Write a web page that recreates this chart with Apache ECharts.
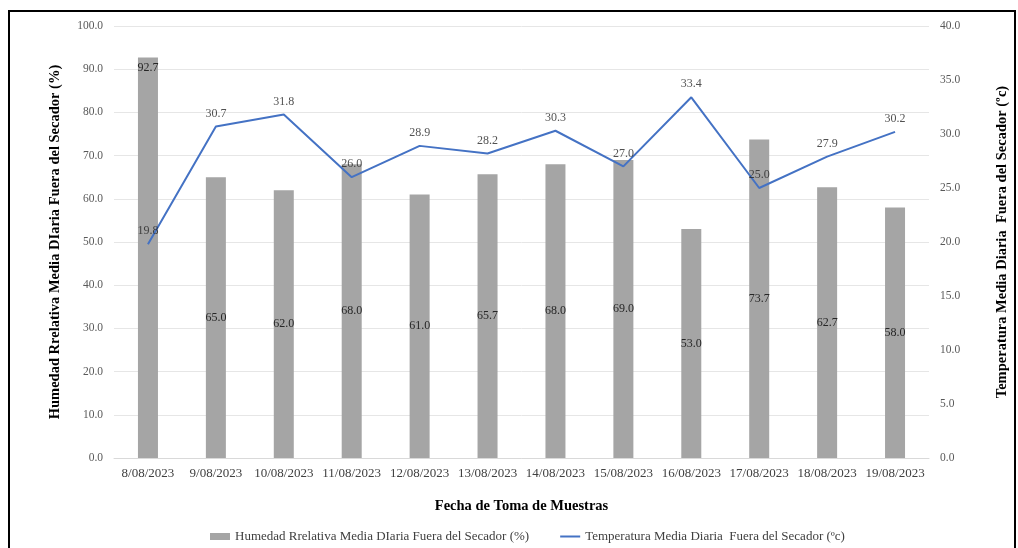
<!DOCTYPE html>
<html><head><meta charset="utf-8">
<script src="https://cdn.jsdelivr.net/npm/echarts@6/dist/echarts.min.js"></script>
<style>html,body{margin:0;padding:0;background:#fff}#c{width:1018px;height:548px}</style>
</head><body><div id="c"></div>
<script>
const categories = ['8/08/2023','9/08/2023','10/08/2023','11/08/2023','12/08/2023','13/08/2023','14/08/2023','15/08/2023','16/08/2023','17/08/2023','18/08/2023','19/08/2023'];
const humedad = [92.7, 65.0, 62.0, 68.0, 61.0, 65.7, 68.0, 69.0, 53.0, 73.7, 62.7, 58.0];
const temperatura = [19.8, 30.7, 31.8, 26.0, 28.9, 28.2, 30.3, 27.0, 33.4, 25.0, 27.9, 30.2];
const humName = 'Humedad Rrelativa Media DIaria Fuera del Secador (%)';
const tempName = 'Temperatura Media Diaria  Fuera del Secador (ºc)';

const font = 'Liberation Serif';
const chart = echarts.init(document.getElementById('c'));
chart.setOption({
  animation: false,
  textStyle: {fontFamily: font},
  graphic: [{type:'rect', shape:{x:9,y:11,width:1006,height:560}, style:{fill:'none', stroke:'#000', lineWidth:2}}],
  grid: {left:114, right:89, top:26, bottom:90},
  legend: {
    bottom: 0, left: 205, itemGap: 30, itemWidth: 20, itemHeight: 7,
    textStyle: {fontFamily: font, fontSize: 13, color: '#404040'},
    data: [{name: humName, icon: 'rect'}, {name: tempName, itemStyle: {opacity: 0}}]
  },
  xAxis: {
    type: 'category', data: categories,
    name: 'Fecha de Toma de Muestras', nameLocation: 'middle', nameGap: 41,
    nameTextStyle: {fontFamily: font, fontWeight: 'bold', fontSize: 14.5, color: '#000'},
    axisLine: {lineStyle: {color: '#D9D9D9'}}, axisTick: {show: false},
    axisLabel: {fontFamily: font, fontSize: 13, color: '#404040', margin: 9, interval: 0}
  },
  yAxis: [{
    type: 'value', min: 0, max: 100, interval: 10,
    name: humName, nameLocation: 'middle', nameGap: 51,
    nameTextStyle: {fontFamily: font, fontWeight: 'bold', fontSize: 14.5, color: '#000'},
    axisLabel: {fontFamily: font, fontSize: 11.5, color: '#595959', formatter: v => v.toFixed(1), margin: 11},
    splitLine: {lineStyle: {color: '#E6E6E6'}}, axisLine: {show: false}, axisTick: {show: false}
  }, {
    type: 'value', min: 0, max: 40, interval: 5,
    name: tempName, nameLocation: 'middle', nameGap: 66,
    nameTextStyle: {fontFamily: font, fontWeight: 'bold', fontSize: 14.5, color: '#000'},
    axisLabel: {fontFamily: font, fontSize: 11.5, color: '#595959', formatter: v => v.toFixed(1), margin: 11},
    splitLine: {show: false}, axisLine: {show: false}, axisTick: {show: false}
  }],
  series: [{
    name: humName, type: 'bar', yAxisIndex: 0, barWidth: 20,
    itemStyle: {color: '#A5A5A5'},
    data: humedad.map((v, i) => i === 0 ? {value: v, label: {position: 'insideTop', distance: 4}} : v),
    label: {show: true, position: 'inside', formatter: p => p.value.toFixed(1), fontFamily: font, fontSize: 12, color: '#262626'}
  }, {
    name: tempName, type: 'line', yAxisIndex: 1, data: temperatura,
    symbol: 'none',
    lineStyle: {color: '#4472C4', width: 2}, itemStyle: {color: '#4472C4'}
  }, {
    name: 'tempLabels', type: 'scatter', yAxisIndex: 1, data: temperatura,
    symbolSize: 0, silent: true, z: 5,
    label: {show: true, position: 'top', distance: 7, formatter: p => p.value.toFixed(1), fontFamily: font, fontSize: 12, color: '#262626'}
  }]
});
</script></body></html>
